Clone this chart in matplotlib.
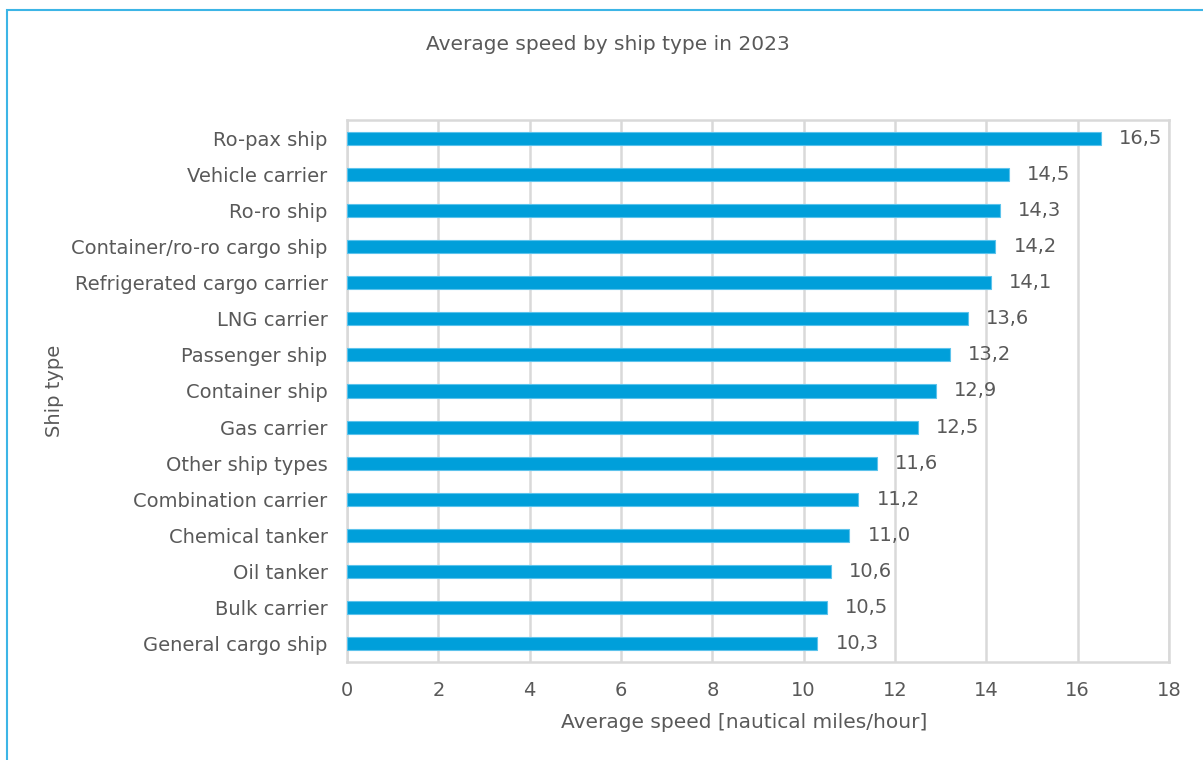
import matplotlib.pyplot as plt
from matplotlib.patches import Rectangle

# Data (top to bottom as shown)
ship_types = ['Ro-pax ship', 'Vehicle carrier', 'Ro-ro ship', 'Container/ro-ro cargo ship',
              'Refrigerated cargo carrier', 'LNG carrier', 'Passenger ship', 'Container ship',
              'Gas carrier', 'Other ship types', 'Combination carrier', 'Chemical tanker',
              'Oil tanker', 'Bulk carrier', 'General cargo ship']
avg_speed = [16.5, 14.5, 14.3, 14.2, 14.1, 13.6, 13.2, 12.9, 12.5, 11.6, 11.2, 11.0, 10.6, 10.5, 10.3]
x_ticks = [0, 2, 4, 6, 8, 10, 12, 14, 16, 18]

text_col = '#595959'
bar_col = '#009FDA'
grid_col = '#D9D9D9'

plt.rcParams['font.family'] = ['DejaVu Sans']
plt.rcParams['font.size'] = 14

W, H = 1203, 760
fig = plt.figure(figsize=(W / 100, H / 100), dpi=100)
ax = fig.add_axes([347 / W, 1 - 662 / H, (1169 - 347) / W, (662 - 120) / H])

y = list(range(len(ship_types)))
ax.barh(y, avg_speed, height=0.36, color=bar_col, edgecolor='#5CC3EC', linewidth=0.8, zorder=3)

for yi, v in zip(y, avg_speed):
    ax.annotate(f'{v:.1f}'.replace('.', ','), (v, yi), xytext=(13, 0), textcoords='offset points',
                va='center', ha='left', color=text_col)

ax.set_xlim(0, 18)
ax.set_ylim(len(ship_types) - 0.5, -0.5)
ax.set_xticks(x_ticks)
ax.set_yticks(y)
ax.set_yticklabels(ship_types)
ax.tick_params(length=0, colors=text_col)
ax.tick_params(axis='y', pad=14)
ax.tick_params(axis='x', pad=14)
ax.xaxis.grid(True, color=grid_col, linewidth=1.8, zorder=0)
for s in ax.spines.values():
    s.set_color(grid_col)
    s.set_linewidth(1.8)

# axis titles and chart title
fig.text(744 / W, 1 - 722 / H, 'Average speed [nautical miles/hour]', ha='center', va='center',
         color=text_col, fontsize=14.5)
fig.text(55 / W, 1 - 391 / H, 'Ship type', rotation=90, va='center', ha='center', color=text_col)
fig.text(608 / W, 1 - 45 / H, 'Average speed by ship type in 2023', ha='center', va='center',
         color=text_col, fontsize=14.5)

# outer frame (only top and left edges visible in the picture)
fig.patches.append(Rectangle((7 / W, -0.1), 1.2, 1 - 10 / H + 0.1, transform=fig.transFigure,
                             fill=False, edgecolor='#3DB5E6', linewidth=1.5))

fig.savefig('out.png', dpi=100)
